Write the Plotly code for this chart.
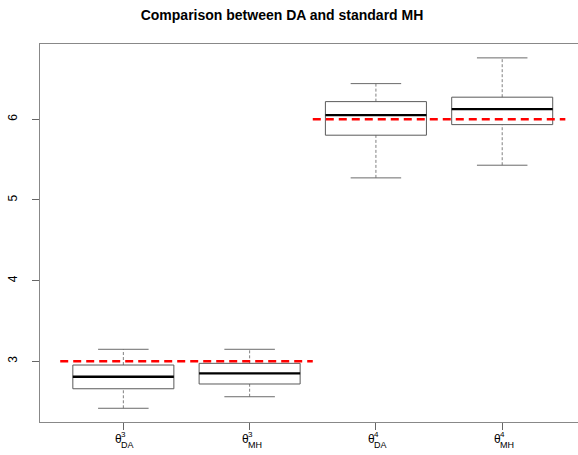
import plotly.graph_objects as go

# ---- data ----
positions = [1, 2, 3, 4]
sup_labels = ["3", "3", "4", "4"]
sub_labels = ["DA", "MH", "DA", "MH"]
lower_whisker = [2.418, 2.561, 5.273, 5.430]
q1 = [2.660, 2.719, 5.802, 5.933]
median = [2.809, 2.851, 6.050, 6.124]
q3 = [2.954, 2.975, 6.218, 6.273]
upper_whisker = [3.149, 3.149, 6.441, 6.760]
true_values = [3, 6]
true_x_start = [0.5, 2.5]
true_x_end = [2.5, 4.5]
y_ticks = [3, 4, 5, 6]

box_half = 0.4
cap_half = 0.2

fig = go.Figure()

def seg_trace(xs, ys, color, width, dash="solid"):
    fig.add_trace(go.Scatter(x=xs, y=ys, mode="lines", hoverinfo="skip",
                             line=dict(color=color, width=width, dash=dash),
                             showlegend=False))

# whiskers (dashed)
wx, wy = [], []
for p, lo, a, b, hi in zip(positions, lower_whisker, q1, q3, upper_whisker):
    wx += [p, p, None, p, p, None]
    wy += [lo, a, None, b, hi, None]
seg_trace(wx, wy, "#808080", 1, "3px,2px")

# caps
cx, cy = [], []
for p, lo, hi in zip(positions, lower_whisker, upper_whisker):
    cx += [p - cap_half, p + cap_half, None, p - cap_half, p + cap_half, None]
    cy += [lo, lo, None, hi, hi, None]
seg_trace(cx, cy, "#6a6a6a", 1)

# boxes
bx, by = [], []
for p, a, b in zip(positions, q1, q3):
    bx += [p - box_half, p + box_half, p + box_half, p - box_half, p - box_half, None]
    by += [a, a, b, b, a, None]
seg_trace(bx, by, "#5a5a5a", 1)

# medians
mx, my = [], []
for p, m in zip(positions, median):
    mx += [p - box_half, p + box_half, None]
    my += [m, m, None]
seg_trace(mx, my, "#000000", 2.3)

# true values (red dashed)
rx, ry = [], []
for v, x0, x1 in zip(true_values, true_x_start, true_x_end):
    rx += [x0, x1, None]
    ry += [v, v, None]
seg_trace(rx, ry, "#ff0000", 2.5, "8px,5px")

# x labels: θ with stacked super/subscripts
for p, sp, sb in zip(positions, sup_labels, sub_labels):
    fig.add_annotation(x=p, y=0, xref="x", yref="paper", text="θ", showarrow=False,
                       xanchor="right", yanchor="middle", xshift=1, yshift=-17,
                       font=dict(size=12, color="#000000"))
    fig.add_annotation(x=p, y=0, xref="x", yref="paper", text=sp, showarrow=False,
                       xanchor="left", yanchor="middle", xshift=-4, yshift=-12,
                       font=dict(size=8, color="#000000"))
    fig.add_annotation(x=p, y=0, xref="x", yref="paper", text=sb, showarrow=False,
                       xanchor="left", yanchor="middle", xshift=-4, yshift=-23,
                       font=dict(size=9, color="#000000"))

fig.update_layout(
    width=581, height=455,
    margin=dict(l=40, r=0, t=44, b=33, autoexpand=False),
    paper_bgcolor="white", plot_bgcolor="white",
    font=dict(family="Liberation Sans, Arial, sans-serif", size=12, color="#000000"),
    title=dict(text="<b>Comparison between DA and standard MH</b>",
               x=282 / 581, xanchor="center", y=1 - 15 / 455, yanchor="middle",
               font=dict(size=14, color="#000000")),
    showlegend=False,
    xaxis=dict(range=[0.34, 4.624], showgrid=False, zeroline=False, automargin=False,
               showline=True, linecolor="#888888", linewidth=1, mirror=True,
               tickvals=positions, ticks="outside", ticklen=7, tickcolor="#666666",
               showticklabels=False, fixedrange=True),
    yaxis=dict(range=[2.248, 6.932], showgrid=False, zeroline=False, automargin=False,
               showline=True, linecolor="#888888", linewidth=1, mirror=False,
               tickvals=y_ticks, ticktext=[str(v) for v in y_ticks],
               ticks="outside", ticklen=7, tickcolor="#666666",
               tickangle=-90, ticklabelstandoff=10,
               tickfont=dict(size=12), fixedrange=True),
)

fig.write_html("out.html", config={"displayModeBar": False},
               post_script="document.body.style.margin='0';document.body.style.overflow='hidden';")
